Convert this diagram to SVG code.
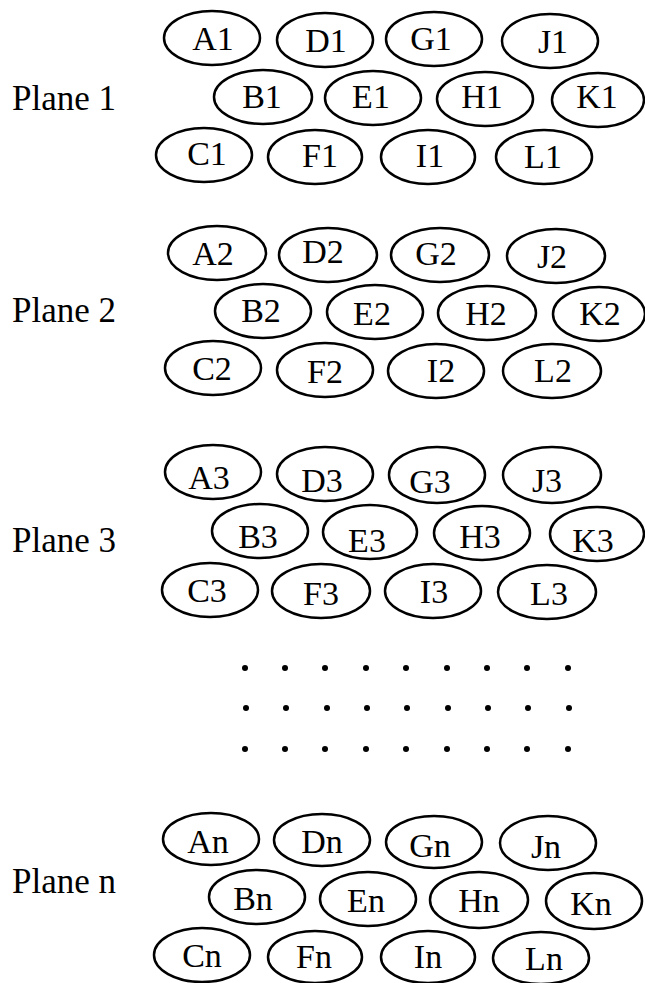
<svg xmlns="http://www.w3.org/2000/svg" width="645" height="983" viewBox="0 0 645 983">
  <style>
    .node ellipse { fill: #ffffff; stroke: #000000; stroke-width: 2.5; }
    .node text { font-family: "Liberation Serif", "Times New Roman", serif; font-size: 34px; fill: #000000; text-anchor: middle; }
    .plane { font-family: "Liberation Serif", "Times New Roman", serif; font-size: 35px; fill: #000000; }
    .dot { fill: #000000; }
  </style>
  <rect x="0" y="0" width="645" height="983" fill="#ffffff"/>

  <!-- plane labels -->
  <g id="labels">
    <text class="plane" x="12" y="110">Plane 1</text>
    <text class="plane" x="12" y="322">Plane 2</text>
    <text class="plane" x="12" y="552">Plane 3</text>
    <text class="plane" x="12" y="893">Plane n</text>
  </g>

  <!-- Plane 1 -->
  <g id="plane1">
    <g id="A1" class="node"><ellipse cx="212" cy="38" rx="48" ry="27"/><text x="213" y="50">A1</text></g>
    <g id="D1" class="node"><ellipse cx="325" cy="40" rx="48" ry="27"/><text x="326" y="52">D1</text></g>
    <g id="G1" class="node"><ellipse cx="434" cy="39" rx="48" ry="27"/><text x="431" y="50">G1</text></g>
    <g id="J1" class="node"><ellipse cx="550" cy="41" rx="48" ry="27"/><text x="553" y="53">J1</text></g>
    <g id="B1" class="node"><ellipse cx="263" cy="97" rx="49" ry="27"/><text x="262" y="108">B1</text></g>
    <g id="E1" class="node"><ellipse cx="373" cy="98" rx="48" ry="27"/><text x="371" y="108">E1</text></g>
    <g id="H1" class="node"><ellipse cx="485" cy="99" rx="48" ry="27"/><text x="482" y="108">H1</text></g>
    <g id="K1" class="node"><ellipse cx="598" cy="100" rx="46" ry="27"/><text x="597" y="108">K1</text></g>
    <g id="C1" class="node"><ellipse cx="204" cy="155" rx="48" ry="27"/><text x="207" y="165">C1</text></g>
    <g id="F1" class="node"><ellipse cx="315" cy="157" rx="47" ry="27"/><text x="320" y="167">F1</text></g>
    <g id="I1" class="node"><ellipse cx="428" cy="157" rx="47" ry="27"/><text x="430" y="167">I1</text></g>
    <g id="L1" class="node"><ellipse cx="544" cy="157" rx="48" ry="27"/><text x="543" y="168">L1</text></g>
  </g>

  <!-- Plane 2 -->
  <g id="plane2">
    <g id="A2" class="node"><ellipse cx="217" cy="253" rx="49" ry="27"/><text x="213" y="265">A2</text></g>
    <g id="D2" class="node"><ellipse cx="328" cy="255" rx="49" ry="27"/><text x="323" y="263">D2</text></g>
    <g id="G2" class="node"><ellipse cx="440" cy="255" rx="49" ry="27"/><text x="436" y="265">G2</text></g>
    <g id="J2" class="node"><ellipse cx="556" cy="256" rx="49" ry="27"/><text x="552" y="268">J2</text></g>
    <g id="B2" class="node"><ellipse cx="263" cy="311" rx="48" ry="27"/><text x="261" y="322">B2</text></g>
    <g id="E2" class="node"><ellipse cx="375" cy="312" rx="48" ry="27"/><text x="372" y="325">E2</text></g>
    <g id="H2" class="node"><ellipse cx="487" cy="313" rx="49" ry="27"/><text x="486" y="325">H2</text></g>
    <g id="K2" class="node"><ellipse cx="599" cy="314" rx="46" ry="27"/><text x="600" y="325">K2</text></g>
    <g id="C2" class="node"><ellipse cx="213" cy="368" rx="48" ry="27"/><text x="212" y="380">C2</text></g>
    <g id="F2" class="node"><ellipse cx="325" cy="370" rx="48" ry="27"/><text x="325" y="383">F2</text></g>
    <g id="I2" class="node"><ellipse cx="436" cy="371" rx="48" ry="27"/><text x="441" y="382">I2</text></g>
    <g id="L2" class="node"><ellipse cx="552" cy="371" rx="49" ry="27"/><text x="553" y="382">L2</text></g>
  </g>

  <!-- Plane 3 -->
  <g id="plane3">
    <g id="A3" class="node"><ellipse cx="213" cy="472" rx="48" ry="27"/><text x="209" y="489">A3</text></g>
    <g id="D3" class="node"><ellipse cx="325" cy="474" rx="48" ry="27"/><text x="322" y="492">D3</text></g>
    <g id="G3" class="node"><ellipse cx="437" cy="475" rx="48" ry="28"/><text x="430" y="493">G3</text></g>
    <g id="J3" class="node"><ellipse cx="552" cy="475" rx="49" ry="28"/><text x="547" y="492">J3</text></g>
    <g id="B3" class="node"><ellipse cx="260" cy="531" rx="48" ry="27"/><text x="258" y="548">B3</text></g>
    <g id="E3" class="node"><ellipse cx="370" cy="532" rx="47" ry="27"/><text x="367" y="552">E3</text></g>
    <g id="H3" class="node"><ellipse cx="482" cy="533" rx="48" ry="27"/><text x="480" y="548">H3</text></g>
    <g id="K3" class="node"><ellipse cx="597" cy="534" rx="47" ry="27"/><text x="593" y="552">K3</text></g>
    <g id="C3" class="node"><ellipse cx="210" cy="590" rx="48" ry="27"/><text x="207" y="602">C3</text></g>
    <g id="F3" class="node"><ellipse cx="321" cy="591" rx="49" ry="27"/><text x="321" y="605">F3</text></g>
    <g id="I3" class="node"><ellipse cx="433" cy="591" rx="48" ry="27"/><text x="434" y="603">I3</text></g>
    <g id="L3" class="node"><ellipse cx="547" cy="592" rx="49" ry="27"/><text x="549" y="605">L3</text></g>
  </g>

  <!-- ellipsis between plane 3 and plane n -->
  <g id="ellipsis">
    <circle class="dot" cx="245" cy="668" r="3"/><circle class="dot" cx="285" cy="668" r="3"/><circle class="dot" cx="325" cy="668" r="3"/>
    <circle class="dot" cx="366" cy="668" r="3"/><circle class="dot" cx="406" cy="668" r="3"/><circle class="dot" cx="447" cy="668" r="3"/>
    <circle class="dot" cx="487" cy="668" r="3"/><circle class="dot" cx="527" cy="668" r="3"/><circle class="dot" cx="568" cy="668" r="3"/>
    <circle class="dot" cx="246" cy="708" r="3"/><circle class="dot" cx="286" cy="708" r="3"/><circle class="dot" cx="327" cy="708" r="3"/>
    <circle class="dot" cx="367" cy="708" r="3"/><circle class="dot" cx="407" cy="708" r="3"/><circle class="dot" cx="448" cy="708" r="3"/>
    <circle class="dot" cx="488" cy="708" r="3"/><circle class="dot" cx="528" cy="708" r="3"/><circle class="dot" cx="569" cy="708" r="3"/>
    <circle class="dot" cx="245" cy="749" r="3"/><circle class="dot" cx="285" cy="749" r="3"/><circle class="dot" cx="325" cy="749" r="3"/>
    <circle class="dot" cx="366" cy="749" r="3"/><circle class="dot" cx="406" cy="749" r="3"/><circle class="dot" cx="447" cy="749" r="3"/>
    <circle class="dot" cx="487" cy="749" r="3"/><circle class="dot" cx="527" cy="749" r="3"/><circle class="dot" cx="568" cy="749" r="3"/>
  </g>

  <!-- Plane n -->
  <g id="planen">
    <g id="An" class="node"><ellipse cx="211" cy="839" rx="48" ry="26"/><text x="208" y="853">An</text></g>
    <g id="Dn" class="node"><ellipse cx="322" cy="840" rx="48" ry="26"/><text x="322" y="853">Dn</text></g>
    <g id="Gn" class="node"><ellipse cx="434" cy="842" rx="48" ry="26"/><text x="430" y="857">Gn</text></g>
    <g id="Jn" class="node"><ellipse cx="548" cy="843" rx="48" ry="27"/><text x="546" y="858">Jn</text></g>
    <g id="Bn" class="node"><ellipse cx="257" cy="897" rx="48" ry="27"/><text x="253" y="910">Bn</text></g>
    <g id="En" class="node"><ellipse cx="368" cy="899" rx="48" ry="27"/><text x="366" y="912">En</text></g>
    <g id="Hn" class="node"><ellipse cx="479" cy="900" rx="49" ry="28"/><text x="479" y="912">Hn</text></g>
    <g id="Kn" class="node"><ellipse cx="594" cy="901" rx="48" ry="28"/><text x="591" y="915">Kn</text></g>
    <g id="Cn" class="node"><ellipse cx="202" cy="955" rx="48" ry="27"/><text x="202" y="967">Cn</text></g>
    <g id="Fn" class="node"><ellipse cx="315" cy="957" rx="47" ry="26"/><text x="314" y="968">Fn</text></g>
    <g id="In" class="node"><ellipse cx="428" cy="957" rx="47" ry="26"/><text x="428" y="968">In</text></g>
    <g id="Ln" class="node"><ellipse cx="541" cy="958" rx="48" ry="26"/><text x="544" y="970">Ln</text></g>
  </g>

  <!-- no connectors in this figure -->
  <g id="connectors"/>
</svg>
